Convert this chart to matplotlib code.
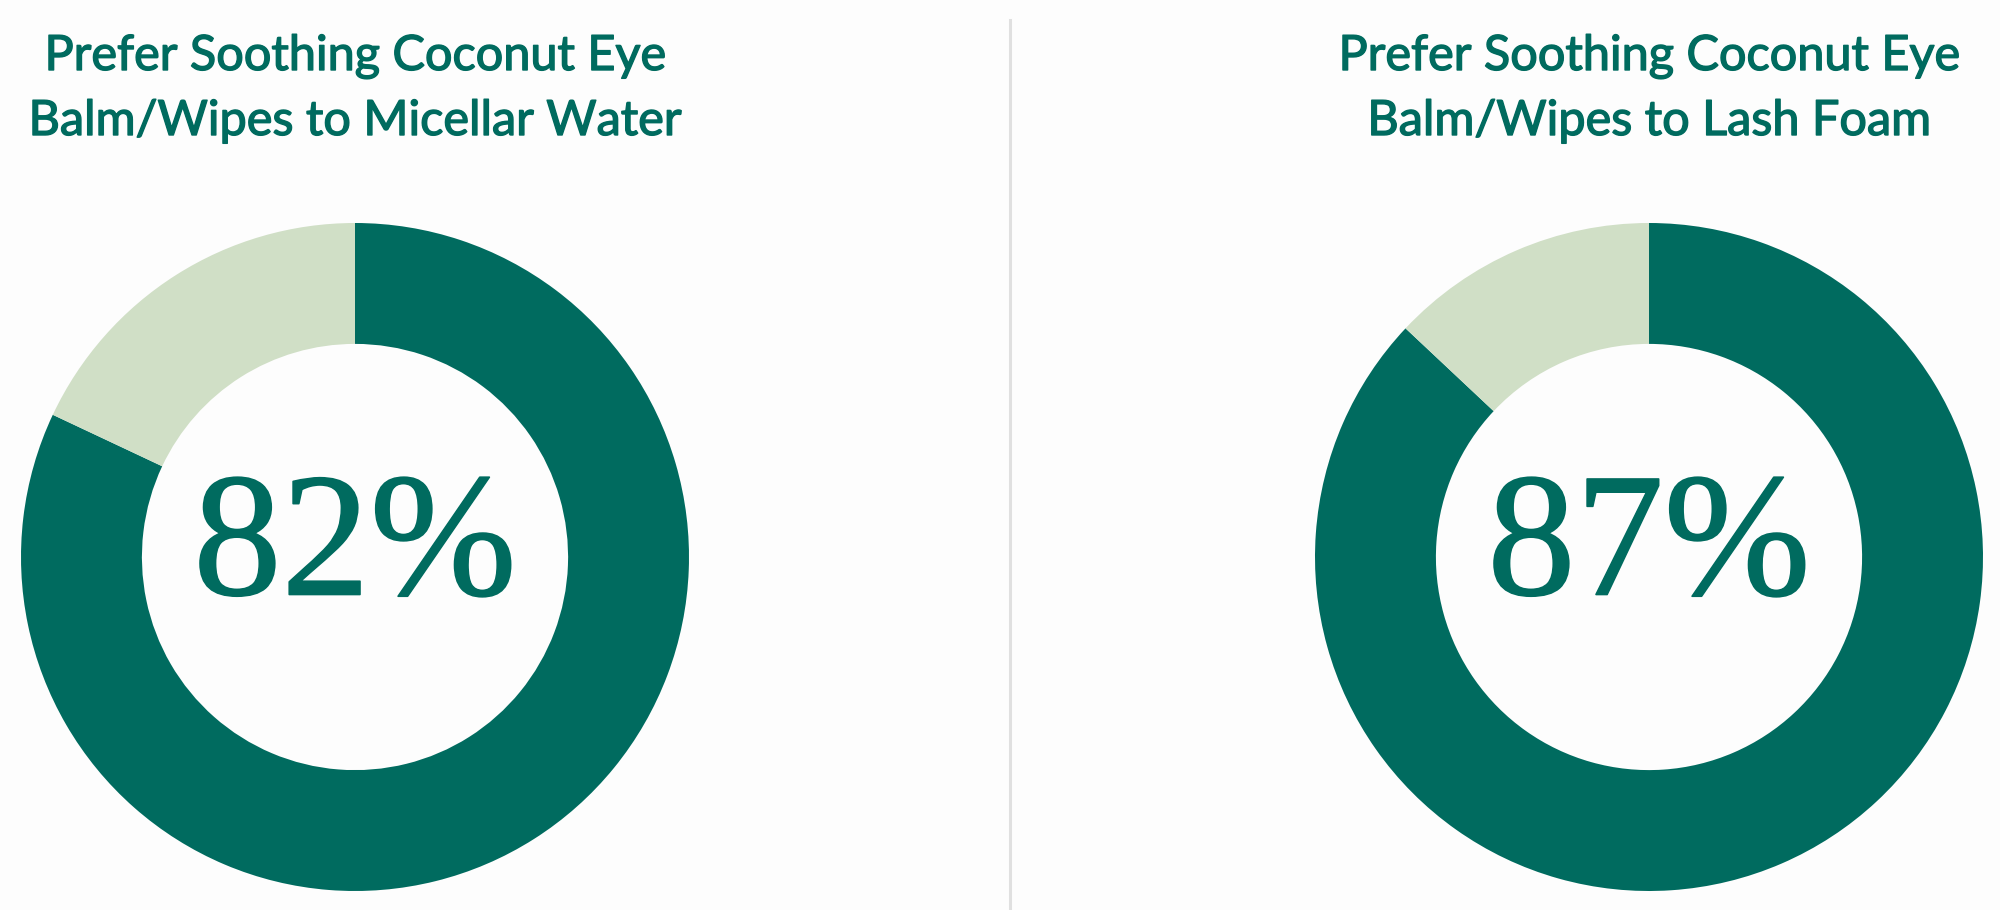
import matplotlib.pyplot as plt
import matplotlib.patheffects as pe

# データ
titles = [
    ["Prefer Soothing Coconut Eye", "Balm/Wipes to Micellar Water"],
    ["Prefer Soothing Coconut Eye", "Balm/Wipes to Lash Foam"],
]
prefer_pct = [82, 87]

dark = "#006B5F"
light = "#D0DFC6"

W, H = 2000, 910
fig = plt.figure(figsize=(W / 100, H / 100), dpi=100)
fig.patch.set_facecolor("#FDFDFD")

centers_x = [355, 1649]
cy = 557
r = 334

for cx, pct, lines in zip(centers_x, prefer_pct, titles):
    ax = fig.add_axes([(cx - r) / W, (H - cy - r) / H, 2 * r / W, 2 * r / H])
    ax.pie([pct, 100 - pct], colors=[dark, light], startangle=90,
           counterclock=False, radius=1,
           wedgeprops=dict(width=0.362, linewidth=0))
    ax.set_xlim(-1, 1)
    ax.set_ylim(-1, 1)
    ax.set_aspect("equal")
    ax.axis("off")

    # 中央の数字
    fig.text(cx / W, 1 - 552 / H, f"{pct}%", ha="center", va="center",
             fontsize=127, color=dark, family=["Liberation Serif", "DejaVu Serif"],
             path_effects=[pe.withStroke(linewidth=1.2, foreground=dark)])

    # タイトル（2行）
    for i, line in enumerate(lines):
        fig.text(cx / W, 1 - (70 + 65 * i) / H, line, ha="center", va="baseline",
                 fontsize=35, color=dark, family="Lato",
                 path_effects=[pe.withStroke(linewidth=1.0, foreground=dark)])

# 区切り線
fig.add_artist(plt.Line2D([1010 / W, 1010 / W], [0, 1 - 20 / H],
                          transform=fig.transFigure, color="#E0E0E0", linewidth=2.2))

plt.savefig("out.png", dpi=100, facecolor=fig.get_facecolor())
